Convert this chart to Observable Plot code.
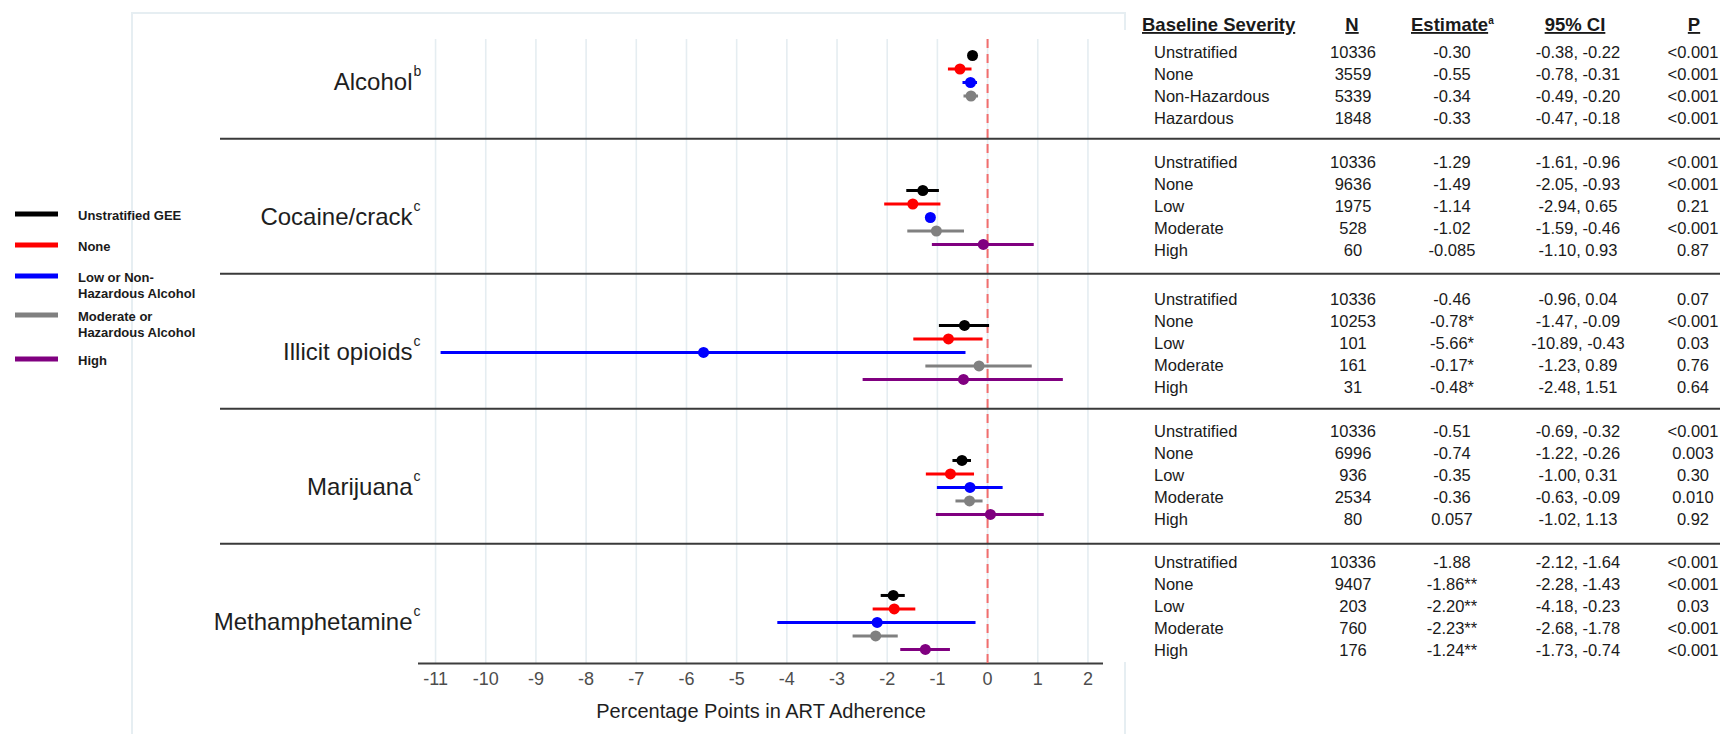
<!DOCTYPE html>
<html><head><meta charset="utf-8">
<script src="https://cdn.jsdelivr.net/npm/d3@7"></script>
<script src="https://cdn.jsdelivr.net/npm/@observablehq/plot@0.6"></script>
<style>body{margin:0;background:#fff;} svg{display:block}</style>
</head><body><div id="chart"></div>
<script>
// ---------- data ----------
const substances = ["Alcohol", "Cocaine/crack", "Illicit opioids", "Marijuana", "Methamphetamine"];
const noteLetters = ["b", "c", "c", "c", "c"];
const seriesColors = ["#000000", "#ff0000", "#0000ff", "#808080", "#800080"];
const legendLabels = [["Unstratified GEE"], ["None"], ["Low or Non-", "Hazardous Alcohol"], ["Moderate or", "Hazardous Alcohol"], ["High"]];
const tickValues = [-11, -10, -9, -8, -7, -6, -5, -4, -3, -2, -1, 0, 1, 2];
const xTitle = "Percentage Points in ART Adherence";

// plotted estimates and interval ends
const estimates = [
  [-0.30, -0.55, -0.34, -0.33],
  [-1.29, -1.49, -1.14, -1.02, -0.085],
  [-0.46, -0.78, -5.66, -0.17, -0.48],
  [-0.51, -0.74, -0.35, -0.36, 0.057],
  [-1.88, -1.86, -2.20, -2.23, -1.24]
];
const lowers = [
  [-0.38, -0.78, -0.49, -0.47],
  [-1.61, -2.05, -1.20, -1.59, -1.10],
  [-0.96, -1.47, -10.89, -1.23, -2.48],
  [-0.69, -1.22, -1.00, -0.63, -1.02],
  [-2.12, -2.28, -4.18, -2.68, -1.73]
];
const uppers = [
  [-0.22, -0.31, -0.20, -0.18],
  [-0.96, -0.93, -1.08, -0.46, 0.93],
  [0.04, -0.09, -0.43, 0.89, 1.51],
  [-0.32, -0.26, 0.31, -0.09, 1.13],
  [-1.64, -1.43, -0.23, -1.78, -0.74]
];

// table
const tableHeaders = ["Baseline Severity", "N", "Estimate", "95% CI", "P"];
const severity = [
  ["Unstratified", "None", "Non-Hazardous", "Hazardous"],
  ["Unstratified", "None", "Low", "Moderate", "High"],
  ["Unstratified", "None", "Low", "Moderate", "High"],
  ["Unstratified", "None", "Low", "Moderate", "High"],
  ["Unstratified", "None", "Low", "Moderate", "High"]
];
const nText = [
  ["10336", "3559", "5339", "1848"],
  ["10336", "9636", "1975", "528", "60"],
  ["10336", "10253", "101", "161", "31"],
  ["10336", "6996", "936", "2534", "80"],
  ["10336", "9407", "203", "760", "176"]
];
const estText = [
  ["-0.30", "-0.55", "-0.34", "-0.33"],
  ["-1.29", "-1.49", "-1.14", "-1.02", "-0.085"],
  ["-0.46", "-0.78*", "-5.66*", "-0.17*", "-0.48*"],
  ["-0.51", "-0.74", "-0.35", "-0.36", "0.057"],
  ["-1.88", "-1.86**", "-2.20**", "-2.23**", "-1.24**"]
];
const ciText = [
  ["-0.38, -0.22", "-0.78, -0.31", "-0.49, -0.20", "-0.47, -0.18"],
  ["-1.61, -0.96", "-2.05, -0.93", "-2.94, 0.65", "-1.59, -0.46", "-1.10, 0.93"],
  ["-0.96, 0.04", "-1.47, -0.09", "-10.89, -0.43", "-1.23, 0.89", "-2.48, 1.51"],
  ["-0.69, -0.32", "-1.22, -0.26", "-1.00, 0.31", "-0.63, -0.09", "-1.02, 1.13"],
  ["-2.12, -1.64", "-2.28, -1.43", "-4.18, -0.23", "-2.68, -1.78", "-1.73, -0.74"]
];
const pText = [
  ["<0.001", "<0.001", "<0.001", "<0.001"],
  ["<0.001", "<0.001", "0.21", "<0.001", "0.87"],
  ["0.07", "<0.001", "0.03", "0.76", "0.64"],
  ["<0.001", "0.003", "0.30", "0.010", "0.92"],
  ["<0.001", "<0.001", "0.03", "<0.001", "<0.001"]
];

// ---------- build ----------
const rows = [];
substances.forEach((s, i) => estimates[i].forEach((e, j) => rows.push({
  substance: s, slot: i * 10 + j, est: e, lo: lowers[i][j], hi: uppers[i][j], color: seriesColors[j]
})));
const labelRows = substances.map((s, i) => ({name: s, note: noteLetters[i], slot: i * 10 + 2}));

const W = 1720, H = 734;
const yDomain = [-1.185, 45.04];
const FONT = "'Liberation Sans', Arial, Helvetica, sans-serif";

const chart = Plot.plot({
  width: W, height: H,
  marginLeft: 418, marginRight: 617, marginTop: 39, marginBottom: 71,
  style: {fontFamily: FONT, fontSize: "18px", color: "#4d4d4d", background: "#fff", overflow: "visible"},
  x: {domain: [-11.34, 2.31], ticks: tickValues, tickSize: 0, tickPadding: 9, tickFormat: d => String(d), label: null},
  y: {domain: yDomain, reverse: true, axis: null},
  color: {type: "identity"},
  marks: [
    Plot.ruleX(tickValues, {stroke: "#e5edf1", strokeWidth: 1.6}),
    Plot.ruleY([yDomain[1]], {stroke: "#3d3d3d", strokeWidth: 2.2}),
    Plot.ruleX([0], {stroke: "#f26d6d", strokeWidth: 2, strokeDasharray: "9,6"}),
    Plot.ruleY(rows, {y: "slot", x1: "lo", x2: "hi", stroke: "color", strokeWidth: 3}),
    Plot.dot(rows, {x: "est", y: "slot", fill: "color", r: 5.5}),
    Plot.text(labelRows, {y: "slot", text: "name", frameAnchor: "left", textAnchor: "end", dx: -6, fontSize: 24, fill: "#1e1e1e"}),
    Plot.text(labelRows, {y: "slot", text: "note", frameAnchor: "left", textAnchor: "start", dx: -5, dy: -11, fontSize: 14, fill: "#1e1e1e"}),
    Plot.text([xTitle], {frameAnchor: "bottom", dy: 54, fontSize: 20, fill: "#1e1e1e"})
  ]
});
document.getElementById("chart").appendChild(chart);

const svg = d3.select(chart);
const yS = chart.scale("y");
const yPx = v => yS.apply(v);

// pale outer frame of the plot image, and white backing of the table
svg.insert("rect", ":first-child").attr("x", 1116).attr("y", 30).attr("width", 604).attr("height", 632).attr("fill", "#fff");
svg.insert("rect", ":first-child").attr("x", 132).attr("y", 13).attr("width", 993).attr("height", 740)
  .attr("fill", "none").attr("stroke", "#e6eef2").attr("stroke-width", 2);

// panel separators
const sepG = svg.append("g");
[0, 1, 2, 3].forEach(i => {
  const yy = yPx(i * 10 + 6.2);
  sepG.append("line").attr("x1", 220).attr("x2", 1720).attr("y1", yy).attr("y2", yy)
    .attr("stroke", "#3a3a3a").attr("stroke-width", 2);
});

// table
const tg = svg.append("g").attr("font-family", FONT).attr("fill", "#1a1a1a");
const colX = [1154, 1353, 1452, 1578, 1693];
const headX = [1142, 1352, 1411, 1575, 1694];
const headAnchor = ["start", "middle", "start", "middle", "middle"];
tableHeaders.forEach((h, k) => {
  const t = tg.append("text").attr("x", headX[k]).attr("y", 31).attr("font-size", 18.5).attr("font-weight", "bold")
    .attr("text-anchor", headAnchor[k]);
  t.append("tspan").text(h).style("text-decoration", "underline");
  if (k === 2) t.append("tspan").text("a").attr("font-size", 10).attr("dy", -7);
});
const firstRowY = [52, 162, 299, 431, 562];
const rowStep = [22, 21.9, 21.9, 21.9, 21.9];
severity.forEach((sec, i) => sec.forEach((lab, j) => {
  const yy = firstRowY[i] + j * rowStep[i];
  const cells = [lab, nText[i][j], estText[i][j], ciText[i][j], pText[i][j]];
  cells.forEach((c, k) => {
    tg.append("text").attr("x", colX[k]).attr("y", yy).attr("dy", "0.36em").attr("font-size", 16.5)
      .attr("text-anchor", k === 0 ? "start" : "middle").text(c);
  });
}));

// legend
const lg = svg.append("g").attr("font-family", FONT).attr("text-anchor", "start");
const legendY = [214, 245, 276, 315, 359];
legendLabels.forEach((lines, k) => {
  lg.append("line").attr("x1", 15).attr("x2", 58).attr("y1", legendY[k]).attr("y2", legendY[k])
    .attr("stroke", seriesColors[k]).attr("stroke-width", 5);
  lines.forEach((ln, m) => {
    lg.append("text").attr("x", 78).attr("y", legendY[k] + 1 + m * 16).attr("dy", "0.36em")
      .attr("text-anchor", "start").attr("font-size", 13).attr("font-weight", "bold").attr("fill", "#1a1a1a").text(ln);
  });
});
</script></body></html>
